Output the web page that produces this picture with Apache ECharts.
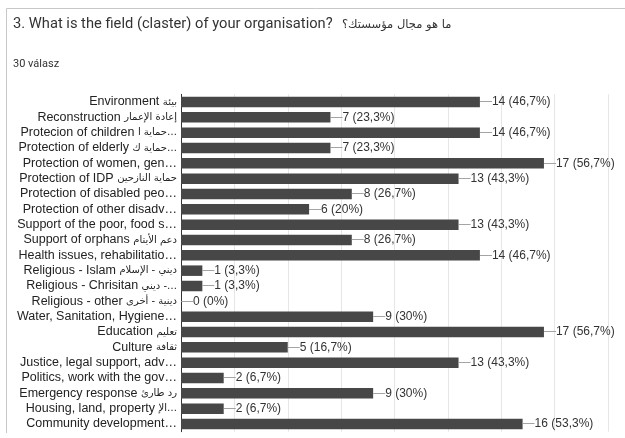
<!DOCTYPE html>
<html><head><meta charset="utf-8">
<script src="https://cdn.jsdelivr.net/npm/echarts@6/dist/echarts.min.js"></script>
<style>html,body{margin:0;padding:0;background:#fff}#c{width:625px;height:438px}</style>
</head><body><div id="c"></div>
<script>
const title = '3. What is the field (claster) of your organisation?';
const titleArabic = 'ما هو مجال مؤسستك؟';
const subtitle = '30 válasz';
const categories = [
  'Environment بيئة',
  'Reconstruction إعادة الإعمار',
  'Protecion of children حماية ا…',
  'Protection of elderly حماية ك…',
  'Protection of women, gen…',
  'Protection of IDP حماية النازحين',
  'Protection of disabled peo…',
  'Protection of other disadv…',
  'Support of the poor, food s…',
  'Support of orphans دعم الأيتام',
  'Health issues, rehabilitatio…',
  'Religious - Islam ديني - الإسلام',
  'Religious - Chrisitan ديني -…',
  'Religious - other دينية - أخرى',
  'Water, Sanitation, Hygiene…',
  'Education تعليم',
  'Culture ثقافة',
  'Justice, legal support, adv…',
  'Politics, work with the gov…',
  'Emergency response رد طارئ',
  'Housing, land, property الإ…',
  'Community development…'
];
const counts = [14, 7, 14, 7, 17, 13, 8, 6, 13, 8, 14, 1, 1, 0, 9, 17, 5, 13, 2, 9, 2, 16];
const percents = ['46,7%', '23,3%', '46,7%', '23,3%', '56,7%', '43,3%', '26,7%', '20%', '43,3%', '26,7%', '46,7%', '3,3%', '3,3%', '0%', '30%', '56,7%', '16,7%', '43,3%', '6,7%', '30%', '6,7%', '53,3%'];

function splitLabel(s) {
  const i = s.search(/[\u0600-\u06FF]/);
  if (i < 0) return '{e|' + s + '}';
  return '{e|' + s.slice(0, i) + '}{a|' + s.slice(i) + '}';
}

const chart = echarts.init(document.getElementById('c'), null, {renderer: 'canvas'});
chart.setOption({
  animation: false,
  backgroundColor: '#fff',
  graphic: [
    {type: 'line', shape: {x1: 6.5, y1: 8.5, x2: 625, y2: 8.5}, style: {stroke: '#c8c8c8', lineWidth: 1}},
    {type: 'line', shape: {x1: 6.5, y1: 8.5, x2: 6.5, y2: 433}, style: {stroke: '#c8c8c8', lineWidth: 1}},
    {type: 'text', left: 13, top: 17, style: {text: title, fontFamily: 'Roboto, Arial, sans-serif', fontSize: 14.7, fill: '#333'}},
    {type: 'text', left: 342, top: 19, style: {text: titleArabic, fontFamily: '"DejaVu Sans", sans-serif', fontSize: 11.5, fill: '#333'}},
    {type: 'text', left: 13, top: 59, style: {text: subtitle, fontFamily: 'Roboto, Arial, sans-serif', fontSize: 11, fill: '#333'}}
  ],
  grid: {left: 181, right: 17, top: 94.3, bottom: 6.3, containLabel: false, outerBoundsMode: 'none'},
  xAxis: {
    type: 'value', min: 0, max: 20, interval: 2.5,
    axisLabel: {show: false}, axisTick: {show: false}, axisLine: {show: false},
    splitLine: {show: true, lineStyle: {color: '#e6e6e6', width: 1}}
  },
  yAxis: {
    type: 'category', inverse: true, data: categories,
    axisTick: {show: false},
    axisLine: {show: true, lineStyle: {color: '#333', width: 1}},
    axisLabel: {
      interval: 0, margin: 4, hideOverlap: false,
      formatter: v => splitLabel(v),
      rich: {
        e: {fontFamily: 'Arial, "Liberation Sans", sans-serif', fontSize: 12.5, color: '#222'},
        a: {fontFamily: '"DejaVu Sans", sans-serif', fontSize: 10, color: '#222'}
      }
    }
  },
  series: [{
    type: 'bar', data: counts, barWidth: 10.5,
    itemStyle: {color: '#474747'},
    label: {
      show: true, position: 'right', distance: 0,
      formatter: p => '{d|—}{t|' + counts[p.dataIndex] + ' (' + percents[p.dataIndex] + ')}',
      rich: {
        d: {color: '#999', fontSize: 12, fontFamily: 'Arial, "Liberation Sans", sans-serif'},
        t: {color: '#333', fontSize: 12, fontFamily: 'Arial, "Liberation Sans", sans-serif'}
      }
    }
  }]
});
</script></body></html>
